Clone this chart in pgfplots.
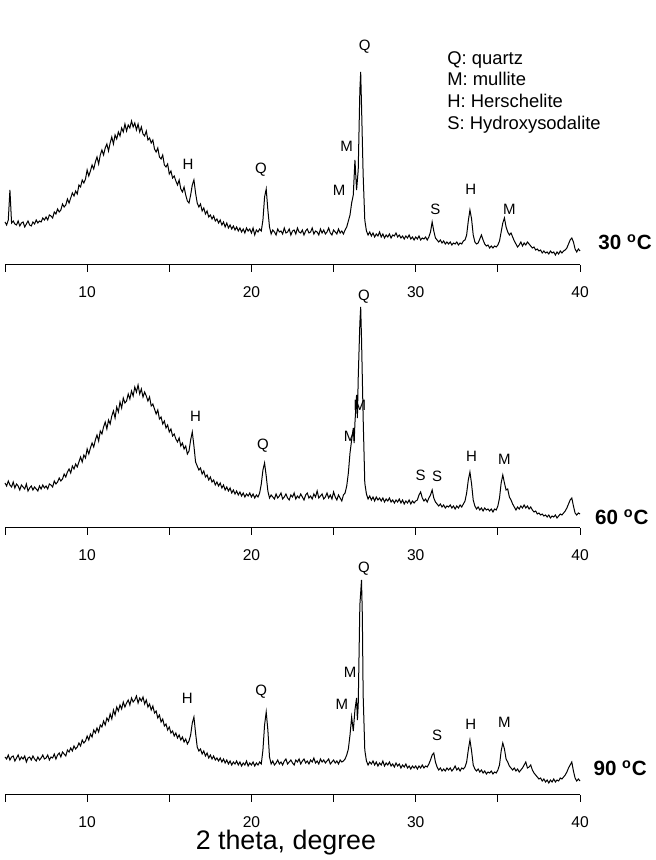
\documentclass[border=0pt]{standalone}
\usepackage{pgfplots}
\pgfplotsset{compat=1.18}
\usepackage{fontspec}
\setmainfont{Liberation Sans}
\pgfplotsset{
  xrdpanel/.style={
    width=287.5pt, height=120pt, scale only axis,
    xmin=5, xmax=40, ymin=0, ymax=240,
    clip=false,
    axis x line*=bottom, hide y axis,
    axis line style={black, line width=0.5pt},
    xtick={5,10,...,40}, xticklabels={,10,,20,,30,,40},
    tick align=outside, major tick length=3.5pt,
    tick style={black, line width=0.5pt},
    xticklabel style={font=\fontsize{7.8}{8}\selectfont, anchor=center, yshift=-10pt},
  },
}
\tikzset{
  spec/.style={black, line width=0.5pt, mark=none},
  pk/.style={font=\fontsize{7.5}{8}\selectfont, inner sep=0pt},
  temp/.style={font=\fontsize{10.3}{11}\selectfont\bfseries, anchor=west, inner sep=0pt},
}
\begin{document}
\begin{tikzpicture}
\useasboundingbox (0,0) rectangle (328pt,430pt);
% ---------------- 30 C ----------------
\begin{axis}[xrdpanel, at={(2.5pt,297.5pt)}, anchor=south west]
\addplot[spec] coordinates {
(5.0,43)(5.1,40)(5.2,45)(5.3,75)(5.4,42)(5.5,44)(5.6,41)(5.7,40)(5.8,44)(5.9,39)
(6.0,42)(6.1,43)(6.2,38)(6.3,41)(6.4,44)(6.5,40)(6.6,39)(6.7,43)(6.8,41)(6.9,45)
(7.0,42)(7.1,44)(7.2,43)(7.3,47)(7.4,45)(7.5,48)(7.6,45)(7.7,50)(7.8,49)(7.9,47)
(8.0,53)(8.1,51)(8.2,56)(8.3,53)(8.4,55)(8.5,61)(8.6,58)(8.7,60)(8.8,66)(8.9,62)
(9.0,67)(9.1,72)(9.2,69)(9.3,74)(9.4,71)(9.5,80)(9.6,78)(9.7,85)(9.8,82)(9.9,86)
(10.0,95)(10.1,89)(10.2,94)(10.3,100)(10.4,96)(10.5,103)(10.6,108)(10.7,101)(10.8,110)(10.9,115)
(11.0,110)(11.1,117)(11.2,121)(11.3,114)(11.4,122)(11.5,128)(11.6,121)(11.7,130)(11.8,126)(11.9,133)
(12.0,129)(12.1,137)(12.2,133)(12.3,141)(12.4,134)(12.5,140)(12.6,137)(12.7,144)(12.8,138)(12.9,142)
(13.0,135)(13.1,141)(13.2,133)(13.3,138)(13.4,131)(13.5,129)(13.6,134)(13.7,125)(13.8,127)(13.9,122)
(14.0,125)(14.1,116)(14.2,113)(14.3,117)(14.4,108)(14.5,106)(14.6,110)(14.7,100)(14.8,98)(14.9,101)
(15.0,91)(15.1,94)(15.2,87)(15.3,89)(15.4,84)(15.5,80)(15.6,85)(15.7,76)(15.8,73)(15.9,78)
(16.0,70)(16.1,64)(16.2,62)(16.3,70)(16.4,80)(16.5,85)(16.6,72)(16.7,62)(16.8,58)(16.9,61)
(17.0,54)(17.1,57)(17.2,51)(17.3,54)(17.4,48)(17.5,50)(17.6,46)(17.7,49)(17.8,44)(17.9,46)
(18.0,42)(18.1,45)(18.2,40)(18.3,43)(18.4,38)(18.5,42)(18.6,37)(18.7,40)(18.8,36)(18.9,39)
(19.0,35)(19.1,38)(19.2,34)(19.3,37)(19.4,33)(19.5,36)(19.6,32)(19.7,37)(19.8,34)(19.9,36)
(20.0,32)(20.1,37)(20.2,30)(20.3,35)(20.4,33)(20.5,36)(20.6,34)(20.7,45)(20.8,68)(20.9,76)
(21.0,55)(21.1,38)(21.2,31)(21.3,35)(21.4,33)(21.5,30)(21.6,36)(21.7,33)(21.8,34)(21.9,31)
(22.0,37)(22.1,32)(22.2,33)(22.3,36)(22.4,30)(22.5,34)(22.6,35)(22.7,31)(22.8,37)(22.9,33)
(23.0,32)(23.1,35)(23.2,30)(23.3,34)(23.4,36)(23.5,32)(23.6,33)(23.7,37)(23.8,31)(23.9,34)
(24.0,33)(24.1,30)(24.2,36)(24.3,32)(24.4,35)(24.5,31)(24.6,33)(24.7,37)(24.8,32)(24.9,30)
(25.0,35)(25.1,33)(25.2,31)(25.3,36)(25.4,32)(25.5,34)(25.6,31)(25.7,35)(25.8,38)(25.9,44)
(26.0,50)(26.1,62)(26.2,70)(26.3,105)(26.35,90)(26.4,75)(26.5,95)(26.6,175)(26.65,193)(26.7,160)
(26.8,90)(26.9,45)(27.0,34)(27.1,30)(27.2,33)(27.3,29)(27.4,32)(27.5,28)(27.6,31)(27.7,29)
(27.8,33)(27.9,28)(28.0,31)(28.1,27)(28.2,30)(28.3,28)(28.4,31)(28.5,27)(28.6,30)(28.7,29)
(28.8,32)(28.9,28)(29.0,30)(29.1,27)(29.2,29)(29.3,26)(29.4,29)(29.5,27)(29.6,30)(29.7,26)
(29.8,28)(29.9,25)(30.0,28)(30.1,26)(30.2,29)(30.3,25)(30.4,27)(30.5,26)(30.6,28)(30.7,25)
(30.8,28)(30.9,33)(31.0,43)(31.1,34)(31.2,27)(31.3,25)(31.4,23)(31.5,25)(31.6,22)(31.7,24)
(31.8,21)(31.9,23)(32.0,21)(32.1,23)(32.2,20)(32.3,22)(32.4,21)(32.5,23)(32.6,20)(32.7,22)
(32.8,21)(32.9,24)(33.0,25)(33.1,30)(33.2,44)(33.3,55)(33.4,46)(33.5,30)(33.6,23)(33.7,21)
(33.8,22)(33.9,26)(34.0,30)(34.1,25)(34.2,21)(34.3,19)(34.4,20)(34.5,17)(34.6,19)(34.7,17)
(34.8,19)(34.9,18)(35.0,20)(35.1,24)(35.2,33)(35.3,42)(35.4,47)(35.5,38)(35.6,33)(35.7,30)
(35.8,32)(35.9,28)(36.0,24)(36.1,21)(36.2,18)(36.3,20)(36.4,23)(36.5,19)(36.6,22)(36.7,20)
(36.8,23)(36.9,21)(37.0,19)(37.1,17)(37.2,18)(37.3,15)(37.4,16)(37.5,14)(37.6,15)(37.7,12)
(37.8,14)(37.9,12)(38.0,13)(38.1,11)(38.2,14)(38.3,12)(38.4,13)(38.5,10)(38.6,13)(38.7,11)
(38.8,14)(38.9,12)(39.0,14)(39.1,15)(39.2,17)(39.3,21)(39.4,25)(39.5,27)(39.6,23)(39.7,16)
(39.8,13)(39.9,16)(40.0,14)
};
\node[pk] at (axis cs:16.14,101) {H};
\node[pk] at (axis cs:20.58,95) {Q};
\node[pk] at (axis cs:25.33,75) {M};
\node[pk] at (axis cs:25.8,119) {M};
\node[pk] at (axis cs:26.9,218) {Q};
\node[pk] at (axis cs:31.2,56) {S};
\node[pk] at (axis cs:33.35,76) {H};
\node[pk] at (axis cs:35.7,56) {M};
\node[anchor=north west, align=left, inner sep=0pt,
      font=\fontsize{9.2}{10.8}\selectfont] at (axis cs:31.9,214)
  {Q: quartz\\M: mullite\\H: Herschelite\\S: Hydroxysodalite};
\node[temp] at (axis cs:41.1,23) {30 \textsuperscript{o}C};
\end{axis}
% ---------------- 60 C ----------------
\begin{axis}[xrdpanel, at={(2.5pt,166pt)}, anchor=south west]
\addplot[spec] coordinates {
(5.0,45)(5.1,42)(5.2,47)(5.3,43)(5.4,41)(5.5,46)(5.6,40)(5.7,44)(5.8,42)(5.9,38)
(6.0,43)(6.1,41)(6.2,39)(6.3,44)(6.4,37)(6.5,40)(6.6,42)(6.7,38)(6.8,41)(6.9,39)
(7.0,37)(7.1,42)(7.2,39)(7.3,43)(7.4,40)(7.5,42)(7.6,39)(7.7,44)(7.8,43)(7.9,41)
(8.0,47)(8.1,44)(8.2,46)(8.3,50)(8.4,47)(8.5,49)(8.6,54)(8.7,51)(8.8,56)(8.9,59)
(9.0,55)(9.1,62)(9.2,59)(9.3,64)(9.4,61)(9.5,66)(9.6,71)(9.7,66)(9.8,73)(9.9,70)
(10.0,79)(10.1,74)(10.2,80)(10.3,85)(10.4,81)(10.5,88)(10.6,93)(10.7,87)(10.8,97)(10.9,94)
(11.0,101)(11.1,106)(11.2,99)(11.3,108)(11.4,104)(11.5,112)(11.6,117)(11.7,110)(11.8,121)(11.9,116)
(12.0,126)(12.1,120)(12.2,130)(12.3,125)(12.4,127)(12.5,134)(12.6,129)(12.7,137)(12.8,132)(12.9,141)
(13.0,136)(13.1,143)(13.2,134)(13.3,139)(13.4,131)(13.5,136)(13.6,132)(13.7,127)(13.8,131)(13.9,122)
(14.0,124)(14.1,119)(14.2,114)(14.3,118)(14.4,109)(14.5,111)(14.6,104)(14.7,107)(14.8,100)(14.9,103)
(15.0,96)(15.1,99)(15.2,92)(15.3,94)(15.4,89)(15.5,86)(15.6,90)(15.7,82)(15.8,85)(15.9,79)
(16.0,82)(16.1,74)(16.2,77)(16.3,88)(16.4,96)(16.5,82)(16.6,66)(16.7,62)(16.8,58)(16.9,60)
(17.0,54)(17.1,57)(17.2,51)(17.3,53)(17.4,48)(17.5,51)(17.6,46)(17.7,48)(17.8,43)(17.9,46)
(18.0,42)(18.1,45)(18.2,40)(18.3,43)(18.4,38)(18.5,41)(18.6,37)(18.7,40)(18.8,35)(18.9,38)
(19.0,34)(19.1,37)(19.2,33)(19.3,36)(19.4,32)(19.5,35)(19.6,31)(19.7,34)(19.8,32)(19.9,35)
(20.0,31)(20.1,34)(20.2,30)(20.3,33)(20.4,31)(20.5,35)(20.6,44)(20.7,58)(20.8,65)(20.9,52)
(21.0,37)(21.1,30)(21.2,33)(21.3,31)(21.4,29)(21.5,34)(21.6,30)(21.7,32)(21.8,35)(21.9,29)
(22.0,31)(22.1,34)(22.2,30)(22.3,28)(22.4,33)(22.5,31)(22.6,35)(22.7,29)(22.8,32)(22.9,30)
(23.0,34)(23.1,31)(23.2,28)(23.3,33)(23.4,35)(23.5,30)(23.6,32)(23.7,29)(23.8,34)(23.9,31)
(24.0,37)(24.1,30)(24.2,32)(24.3,34)(24.4,29)(24.5,31)(24.6,35)(24.7,30)(24.8,33)(24.9,29)
(25.0,36)(25.1,31)(25.2,28)(25.3,33)(25.4,30)(25.5,27)(25.6,33)(25.7,35)(25.8,42)(25.9,55)
(26.0,75)(26.1,88)(26.2,100)(26.25,85)(26.3,105)(26.4,133)(26.45,110)(26.5,150)(26.6,205)(26.65,221)
(26.7,190)(26.8,110)(26.9,45)(27.0,34)(27.1,29)(27.2,32)(27.3,28)(27.4,31)(27.5,27)(27.6,31)
(27.7,28)(27.8,30)(27.9,27)(28.0,30)(28.1,26)(28.2,29)(28.3,27)(28.4,30)(28.5,26)(28.6,28)
(28.7,25)(28.8,28)(28.9,26)(29.0,29)(29.1,25)(29.2,28)(29.3,24)(29.4,27)(29.5,25)(29.6,28)
(29.7,24)(29.8,27)(29.9,25)(30.0,27)(30.1,28)(30.2,33)(30.3,36)(30.4,30)(30.5,27)(30.6,29)
(30.7,26)(30.8,30)(30.9,33)(31.0,38)(31.1,30)(31.2,26)(31.3,24)(31.4,22)(31.5,24)(31.6,21)
(31.7,23)(31.8,20)(31.9,22)(32.0,21)(32.1,23)(32.2,20)(32.3,22)(32.4,19)(32.5,22)(32.6,20)
(32.7,23)(32.8,21)(32.9,24)(33.0,27)(33.1,35)(33.2,48)(33.3,56)(33.4,44)(33.5,28)(33.6,22)
(33.7,19)(33.8,21)(33.9,18)(34.0,20)(34.1,17)(34.2,20)(34.3,18)(34.4,19)(34.5,17)(34.6,19)
(34.7,16)(34.8,19)(34.9,18)(35.0,22)(35.1,30)(35.2,45)(35.3,53)(35.4,45)(35.5,38)(35.6,39)
(35.7,31)(35.8,28)(35.9,24)(36.0,21)(36.1,18)(36.2,21)(36.3,19)(36.4,22)(36.5,20)(36.6,23)
(36.7,20)(36.8,22)(36.9,19)(37.0,21)(37.1,18)(37.2,16)(37.3,17)(37.4,14)(37.5,15)(37.6,13)
(37.7,14)(37.8,12)(37.9,13)(38.0,11)(38.1,13)(38.2,10)(38.3,12)(38.4,11)(38.5,13)(38.6,10)
(38.7,12)(38.8,14)(38.9,13)(39.0,15)(39.1,17)(39.2,20)(39.3,24)(39.4,28)(39.5,30)(39.6,22)
(39.7,15)(39.8,13)(39.9,15)(40.0,14)
};
\node[pk] at (axis cs:26.85,231) {Q};
\node[pk] at (axis cs:16.6,112) {H};
\node[pk] at (axis cs:20.7,82) {Q};
\node[pk] at (axis cs:26.6,123) {M};
\node[pk] at (axis cs:26.0,92) {M};
\node[pk] at (axis cs:30.3,53) {S};
\node[pk] at (axis cs:31.3,52) {S};
\node[pk] at (axis cs:33.4,72) {H};
\node[pk] at (axis cs:35.4,69) {M};
\node[temp] at (axis cs:40.9,11) {60 \textsuperscript{o}C};
\end{axis}
% ---------------- 90 C ----------------
\begin{axis}[xrdpanel, at={(2.5pt,32.5pt)}, anchor=south west]
\addplot[spec] coordinates {
(5.0,38)(5.1,36)(5.2,40)(5.3,35)(5.4,38)(5.5,39)(5.6,34)(5.7,37)(5.8,40)(5.9,35)
(6.0,38)(6.1,36)(6.2,39)(6.3,33)(6.4,37)(6.5,38)(6.6,35)(6.7,39)(6.8,36)(6.9,34)
(7.0,38)(7.1,35)(7.2,37)(7.3,40)(7.4,36)(7.5,37)(7.6,40)(7.7,35)(7.8,38)(7.9,37)
(8.0,41)(8.1,36)(8.2,40)(8.3,42)(8.4,38)(8.5,43)(8.6,41)(8.7,39)(8.8,45)(8.9,43)
(9.0,47)(9.1,44)(9.2,49)(9.3,46)(9.4,48)(9.5,52)(9.6,49)(9.7,55)(9.8,52)(9.9,54)
(10.0,59)(10.1,55)(10.2,61)(10.3,58)(10.4,65)(10.5,62)(10.6,67)(10.7,63)(10.8,70)(10.9,68)
(11.0,74)(11.1,70)(11.2,77)(11.3,74)(11.4,81)(11.5,76)(11.6,85)(11.7,80)(11.8,88)(11.9,84)
(12.0,90)(12.1,86)(12.2,93)(12.3,88)(12.4,92)(12.5,95)(12.6,90)(12.7,97)(12.8,93)(12.9,95)
(13.0,99)(13.1,92)(13.2,97)(13.3,94)(13.4,98)(13.5,91)(13.6,95)(13.7,88)(13.8,91)(13.9,85)
(14.0,89)(14.1,82)(14.2,84)(14.3,77)(14.4,80)(14.5,73)(14.6,76)(14.7,69)(14.8,71)(14.9,65)
(15.0,68)(15.1,62)(15.2,64)(15.3,59)(15.4,62)(15.5,57)(15.6,60)(15.7,55)(15.8,58)(15.9,53)
(16.0,56)(16.1,51)(16.2,54)(16.3,60)(16.4,72)(16.5,78)(16.6,62)(16.7,48)(16.8,44)(16.9,46)
(17.0,41)(17.1,44)(17.2,39)(17.3,42)(17.4,37)(17.5,40)(17.6,36)(17.7,39)(17.8,35)(17.9,37)
(18.0,34)(18.1,37)(18.2,33)(18.3,36)(18.4,32)(18.5,35)(18.6,31)(18.7,34)(18.8,30)(18.9,33)
(19.0,31)(19.1,34)(19.2,30)(19.3,33)(19.4,29)(19.5,32)(19.6,30)(19.7,34)(19.8,29)(19.9,32)
(20.0,30)(20.1,33)(20.2,29)(20.3,32)(20.4,30)(20.5,33)(20.6,31)(20.7,45)(20.8,70)(20.9,83)
(21.0,65)(21.1,38)(21.2,31)(21.3,34)(21.4,30)(21.5,32)(21.6,35)(21.7,31)(21.8,33)(21.9,30)
(22.0,34)(22.1,36)(22.2,31)(22.3,33)(22.4,35)(22.5,32)(22.6,30)(22.7,35)(22.8,33)(22.9,36)
(23.0,31)(23.1,34)(23.2,36)(23.3,32)(23.4,34)(23.5,31)(23.6,35)(23.7,33)(23.8,37)(23.9,32)
(24.0,34)(24.1,31)(24.2,36)(24.3,33)(24.4,35)(24.5,32)(24.6,34)(24.7,36)(24.8,31)(24.9,33)
(25.0,35)(25.1,32)(25.2,34)(25.3,31)(25.4,35)(25.5,33)(25.6,34)(25.7,36)(25.8,40)(25.9,46)
(26.0,60)(26.1,78)(26.2,64)(26.3,85)(26.4,97)(26.45,75)(26.5,90)(26.6,190)(26.7,215)(26.75,180)
(26.8,100)(26.9,45)(27.0,34)(27.1,30)(27.2,33)(27.3,31)(27.4,34)(27.5,30)(27.6,33)(27.7,29)
(27.8,32)(27.9,30)(28.0,34)(28.1,29)(28.2,32)(28.3,30)(28.4,33)(28.5,29)(28.6,31)(28.7,28)
(28.8,32)(28.9,29)(29.0,31)(29.1,27)(29.2,30)(29.3,28)(29.4,31)(29.5,27)(29.6,29)(29.7,26)
(29.8,29)(29.9,27)(30.0,29)(30.1,26)(30.2,29)(30.3,27)(30.4,30)(30.5,27)(30.6,29)(30.7,28)
(30.8,31)(30.9,35)(31.0,40)(31.1,42)(31.2,33)(31.3,28)(31.4,25)(31.5,27)(31.6,24)(31.7,26)
(31.8,24)(31.9,27)(32.0,25)(32.1,27)(32.2,24)(32.3,26)(32.4,29)(32.5,25)(32.6,27)(32.7,24)
(32.8,27)(32.9,26)(33.0,28)(33.1,33)(33.2,45)(33.3,55)(33.4,44)(33.5,30)(33.6,26)(33.7,24)
(33.8,26)(33.9,23)(34.0,25)(34.1,22)(34.2,24)(34.3,21)(34.4,23)(34.5,22)(34.6,24)(34.7,21)
(34.8,23)(34.9,22)(35.0,25)(35.1,30)(35.2,44)(35.3,52)(35.4,46)(35.5,36)(35.6,33)(35.7,29)
(35.8,27)(35.9,25)(36.0,27)(36.1,24)(36.2,26)(36.3,23)(36.4,25)(36.5,27)(36.6,30)(36.7,33)
(36.8,27)(36.9,28)(37.0,30)(37.1,25)(37.2,22)(37.3,20)(37.4,18)(37.5,16)(37.6,17)(37.7,14)
(37.8,16)(37.9,13)(38.0,15)(38.1,12)(38.2,15)(38.3,13)(38.4,16)(38.5,13)(38.6,15)(38.7,14)
(38.8,17)(38.9,16)(39.0,18)(39.1,20)(39.2,23)(39.3,27)(39.4,30)(39.5,33)(39.6,24)(39.7,17)
(39.8,14)(39.9,16)(40.0,14)
};
\node[pk] at (axis cs:26.85,226) {Q};
\node[pk] at (axis cs:16.1,97) {H};
\node[pk] at (axis cs:20.6,103) {Q};
\node[pk] at (axis cs:26.0,123) {M};
\node[pk] at (axis cs:25.5,91) {M};
\node[pk] at (axis cs:31.3,60) {S};
\node[pk] at (axis cs:33.35,71) {H};
\node[pk] at (axis cs:35.4,73) {M};
\node[temp] at (axis cs:40.8,27) {90 \textsuperscript{o}C};
\node[font=\fontsize{13.4}{14}\selectfont, inner sep=0pt] at (axis cs:22.1,-48) {2 theta, degree};
\end{axis}
\end{tikzpicture}
\end{document}
